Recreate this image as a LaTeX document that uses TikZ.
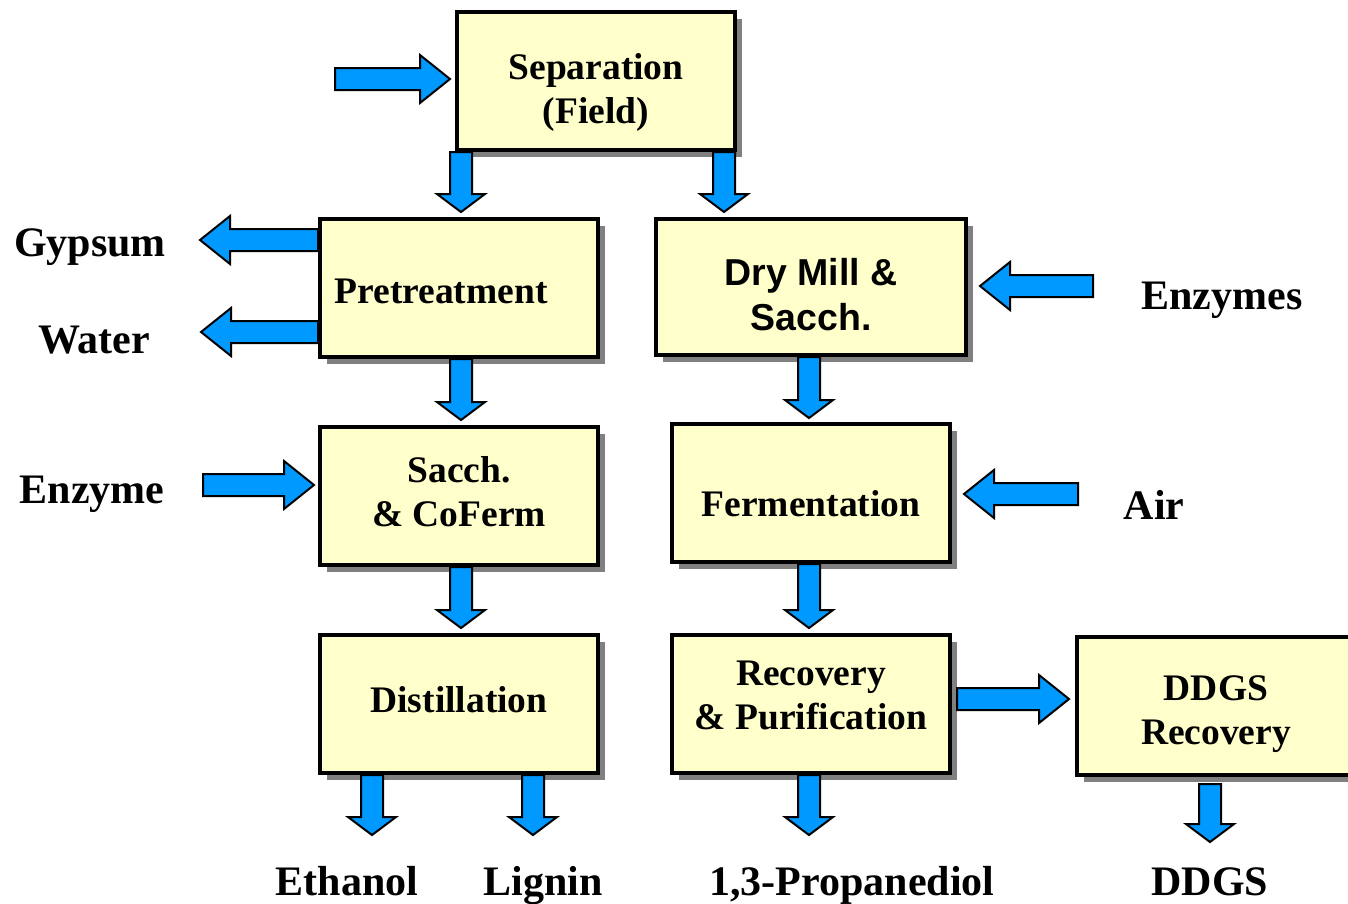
\documentclass[tikz,border=0pt]{standalone}
\usepackage{fontspec}
\setmainfont{Liberation Serif}
\newfontfamily\arialfont{Liberation Sans}
\usetikzlibrary{calc,shadows}

\definecolor{boxfill}{RGB}{255,255,204}
\definecolor{arrowblue}{RGB}{0,153,255}
\definecolor{shadowgray}{RGB}{128,128,128}

% block arrow from #2 to #3, #1 is the head length
\newcommand{\fatarrow}[3][30pt]{%
  \path #3 coordinate (fa-tip) ($#3!#1!#2$) coordinate (fa-base);
  \draw[fatarr] ($#2!11pt!90:#3$) -- ($(fa-base)!11pt!90:(fa-tip)$)
    -- ($(fa-base)!24pt!90:(fa-tip)$) -- (fa-tip)
    -- ($(fa-base)!24pt!-90:(fa-tip)$) -- ($(fa-base)!11pt!-90:(fa-tip)$)
    -- ($#2!11pt!-90:#3$) -- cycle;}

% box text, moved up by #1 without changing its size
\newcommand{\boxtext}[2]{\raisebox{#1}[\height][\depth]{\begin{tabular}{@{}c@{}}#2\end{tabular}}}

\begin{document}
\begin{tikzpicture}[x=1pt, y=-1pt,
    procbox/.style={draw=black, line width=4pt, fill=boxfill,
      minimum width=278pt, minimum height=138pt, align=center,
      font=\fontsize{37.5}{44}\selectfont\bfseries,
      drop shadow={shadow xshift=7pt, shadow yshift=-7pt, fill=shadowgray, opacity=1}},
    stream/.style={anchor=base, font=\fontsize{42}{46}\selectfont\bfseries},
    fatarr/.style={draw=black, line width=2pt, fill=arrowblue, line join=miter}]
  \useasboundingbox (0,0) rectangle (1348,903);
  \clip (0,0) rectangle (1348,903);

  % process boxes
  \node[procbox] (sep) at (596,81) {\boxtext{-12pt}{Separation\\(Field)}};
  \node[procbox] (pre) at (459,288) {\boxtext{-7pt}{Pretreatment\hspace*{36pt}}};
  \node[procbox, minimum width=310pt, minimum height=136pt,
        font=\fontsize{37.5}{45}\selectfont\arialfont\bfseries] (dry) at (811,287)
        {\boxtext{-12pt}{Dry Mill \&\\Sacch.}};
  \node[procbox] (sac) at (459,496) {\boxtext{0pt}{Sacch.\\\& CoFerm}};
  \node[procbox] (fer) at (811,493) {\boxtext{-15pt}{Fermentation}};
  \node[procbox] (dis) at (459,704) {\boxtext{0pt}{Distillation}};
  \node[procbox] (rec) at (811,704) {\boxtext{5pt}{Recovery\\\& Purification}};
  \node[procbox] (ddr) at (1216,706) {\boxtext{-8pt}{DDGS\\Recovery}};

  % stream labels
  \node[stream] (gyp) at (90,256) {Gypsum};
  \node[stream] (wat) at (94,353) {Water};
  \node[stream] (enz) at (92,503) {Enzyme};
  \node[stream] (enzs) at (1222,309) {Enzymes};
  \node[stream] (air) at (1154,519) {Air};
  \node[stream] (eth) at (347,895) {Ethanol};
  \node[stream] (lig) at (543,895) {Lignin};
  \node[stream] (pdo) at (852,895) {1,3-Propanediol};
  \node[stream] (ddgs) at (1210,895) {DDGS};

  % free arrow ends
  \coordinate (feed) at (335,79);
  \coordinate (gyp-in) at (200,240);
  \coordinate (wat-in) at (201,332);
  \coordinate (enz-out) at (203,485);
  \coordinate (enzs-out) at (1093,286);
  \coordinate (air-out) at (1078,494);
  \coordinate (eth-in) at (372,835);
  \coordinate (lig-in) at (533,835);
  \coordinate (pdo-in) at (809,835);
  \coordinate (ddgs-in) at (1210,842);

  % arrows into and out of the boxes
  \fatarrow{(feed)}{([xshift=-5pt]sep.west |- feed)}
  \fatarrow[18pt]{(sep.south -| 461,0)}{([yshift=5pt]pre.north -| 461,0)}
  \fatarrow[18pt]{([xshift=-13pt]sep.south east)}{([yshift=5pt]dry.north -| 724,0)}
  \fatarrow{(pre.west |- gyp-in)}{(gyp-in)}
  \fatarrow{(pre.west |- wat-in)}{(wat-in)}
  \fatarrow[18pt]{(pre.south -| 461,0)}{([yshift=5pt]sac.north -| 461,0)}
  \fatarrow[18pt]{(dry.south -| 809,0)}{([yshift=4pt]fer.north -| 809,0)}
  \fatarrow{(enzs-out)}{([xshift=12pt]dry.east |- enzs-out)}
  \fatarrow{(enz-out)}{([xshift=-4pt]sac.west |- enz-out)}
  \fatarrow[18pt]{(sac.south -| 461,0)}{([yshift=5pt]dis.north -| 461,0)}
  \fatarrow[18pt]{(fer.south -| 809,0)}{([yshift=5pt]rec.north -| 809,0)}
  \fatarrow{(air-out)}{([xshift=12pt]fer.east |- air-out)}
  \fatarrow{([xshift=5pt]rec.east |- 0,699)}{([xshift=-6pt]ddr.west |- 0,699)}
  \fatarrow[18pt]{(dis.south -| eth-in)}{(eth-in)}
  \fatarrow[18pt]{(dis.south -| lig-in)}{(lig-in)}
  \fatarrow[18pt]{(rec.south -| pdo-in)}{(pdo-in)}
  \fatarrow[18pt]{([yshift=-7pt]ddr.south -| ddgs-in)}{(ddgs-in)}
\end{tikzpicture}
\end{document}
